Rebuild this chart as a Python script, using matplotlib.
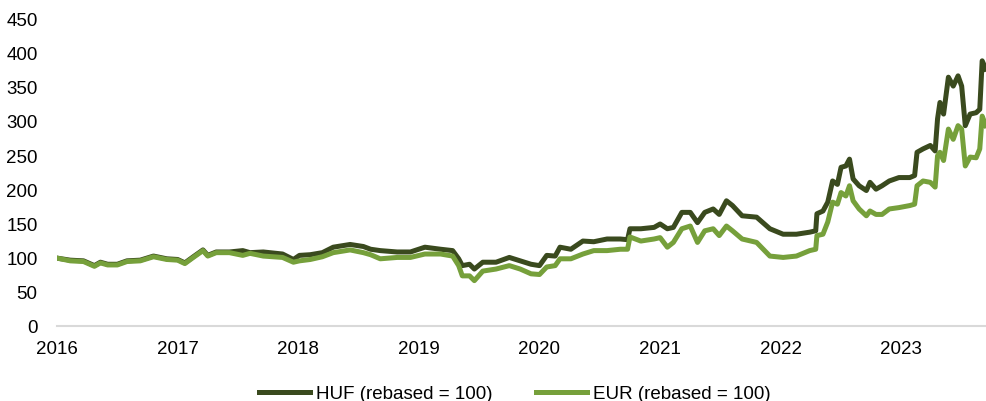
import matplotlib
matplotlib.use("Agg")
import matplotlib.pyplot as plt

plt.rcParams['font.family'] = ['Liberation Sans', 'DejaVu Sans']

# decimal years
t = [2016.00, 2016.11, 2016.22, 2016.31, 2016.36, 2016.42, 2016.50, 2016.58, 2016.69, 2016.80,
     2016.91, 2017.00, 2017.06, 2017.13, 2017.21, 2017.25, 2017.32, 2017.43, 2017.54, 2017.60,
     2017.71, 2017.87, 2017.96, 2018.01, 2018.10, 2018.20, 2018.29, 2018.43, 2018.54, 2018.60,
     2018.68, 2018.82, 2018.93, 2019.05, 2019.18, 2019.28, 2019.33, 2019.36, 2019.42, 2019.46,
     2019.53, 2019.64, 2019.75, 2019.84, 2019.93, 2020.00, 2020.06, 2020.13, 2020.17, 2020.26,
     2020.36, 2020.45, 2020.56, 2020.67, 2020.73, 2020.75, 2020.84, 2020.95, 2021.00, 2021.06,
     2021.11, 2021.18, 2021.25, 2021.31, 2021.37, 2021.44, 2021.49, 2021.55, 2021.60, 2021.68,
     2021.80, 2021.91, 2022.02, 2022.13, 2022.24, 2022.29, 2022.30, 2022.35, 2022.39, 2022.43,
     2022.47, 2022.50, 2022.54, 2022.57, 2022.60, 2022.65, 2022.71, 2022.74, 2022.79, 2022.84,
     2022.90, 2022.98, 2023.07, 2023.11, 2023.13, 2023.18, 2023.24, 2023.28, 2023.30, 2023.32,
     2023.35, 2023.39, 2023.43, 2023.47, 2023.50, 2023.53, 2023.57, 2023.62, 2023.65, 2023.67,
     2023.70]

huf = [99, 96, 95, 88, 93, 90, 90, 95, 96, 102,
       98, 97, 92, 101, 111, 103, 108, 108, 110, 107,
       108, 105, 97, 103, 104, 107, 115, 119, 116, 112,
       110, 108, 108, 115, 112, 110, 98, 88, 90, 83,
       93, 93, 100, 95, 90, 88, 103, 102, 115, 112,
       124, 123, 127, 127, 126, 142, 142, 144, 149, 142,
       144, 166, 166, 151, 166, 171, 163, 183, 176, 161,
       159, 142, 134, 134, 137, 139, 164, 168, 181, 212,
       207, 232, 234, 244, 215, 205, 198, 210, 200, 205,
       212, 217, 217, 220, 254, 259, 264, 256, 303, 327,
       310, 364, 351, 366, 351, 293, 310, 312, 317, 388,
       376]

eur = [99, 95, 94, 87, 92, 89, 89, 94, 95, 101,
       97, 96, 91, 100, 110, 102, 107, 107, 103, 106,
       102, 100, 93, 95, 97, 101, 107, 111, 107, 104,
       98, 100, 100, 105, 105, 102, 88, 73, 73, 66,
       80, 83, 88, 83, 76, 75, 86, 88, 98, 98,
       105, 110, 110, 112, 112, 130, 124, 127, 129, 115,
       122, 142, 146, 122, 139, 142, 132, 146, 139, 127,
       122, 102, 100, 102, 110, 112, 132, 134, 152, 181,
       178, 195, 190, 205, 183, 171, 161, 168, 163, 163,
       171, 173, 176, 178, 205, 212, 210, 203, 249, 254,
       242, 288, 273, 293, 288, 234, 247, 246, 259, 307,
       293]

year_ticks = [2016, 2017, 2018, 2019, 2020, 2021, 2022, 2023]
year_labels = ['2016', '2017', '2018', '2019', '2020', '2021', '2022', '2023']
y_ticks = [0, 50, 100, 150, 200, 250, 300, 350, 400, 450]

fig = plt.figure(figsize=(9.87, 4.02), dpi=100)
ax = fig.add_axes([57/987, 1 - 326.7/402, (987 - 57)/987, (326.7 - 19.5)/402])

ax.plot(t, huf, color='#3a4a1e', lw=3.6, solid_joinstyle='round', label='HUF (rebased = 100)', zorder=2)
ax.plot(t, eur, color='#76a03b', lw=3.6, solid_joinstyle='round', label='EUR (rebased = 100)', zorder=3)

ax.set_xlim(2016, 2023.71)
ax.set_ylim(0, 450)
ax.set_xticks(year_ticks)
ax.set_xticklabels(year_labels)
ax.set_yticks(y_ticks)
for s in ['top', 'right', 'left']:
    ax.spines[s].set_visible(False)
ax.spines['bottom'].set_color('#d9d9d9')
ax.spines['bottom'].set_linewidth(1.5)
ax.spines['bottom'].set_zorder(1)
ax.tick_params(axis='both', length=0, labelsize=13.5, colors='#000000')
ax.tick_params(axis='y', pad=14)
ax.tick_params(axis='x', pad=10)

fig.legend(loc='center', bbox_to_anchor=(514.5/987, 0.018), ncol=2, frameon=False,
           fontsize=13.5, handlelength=2.75, columnspacing=2.3, handletextpad=0.3)

fig.savefig('out.png', dpi=100)
